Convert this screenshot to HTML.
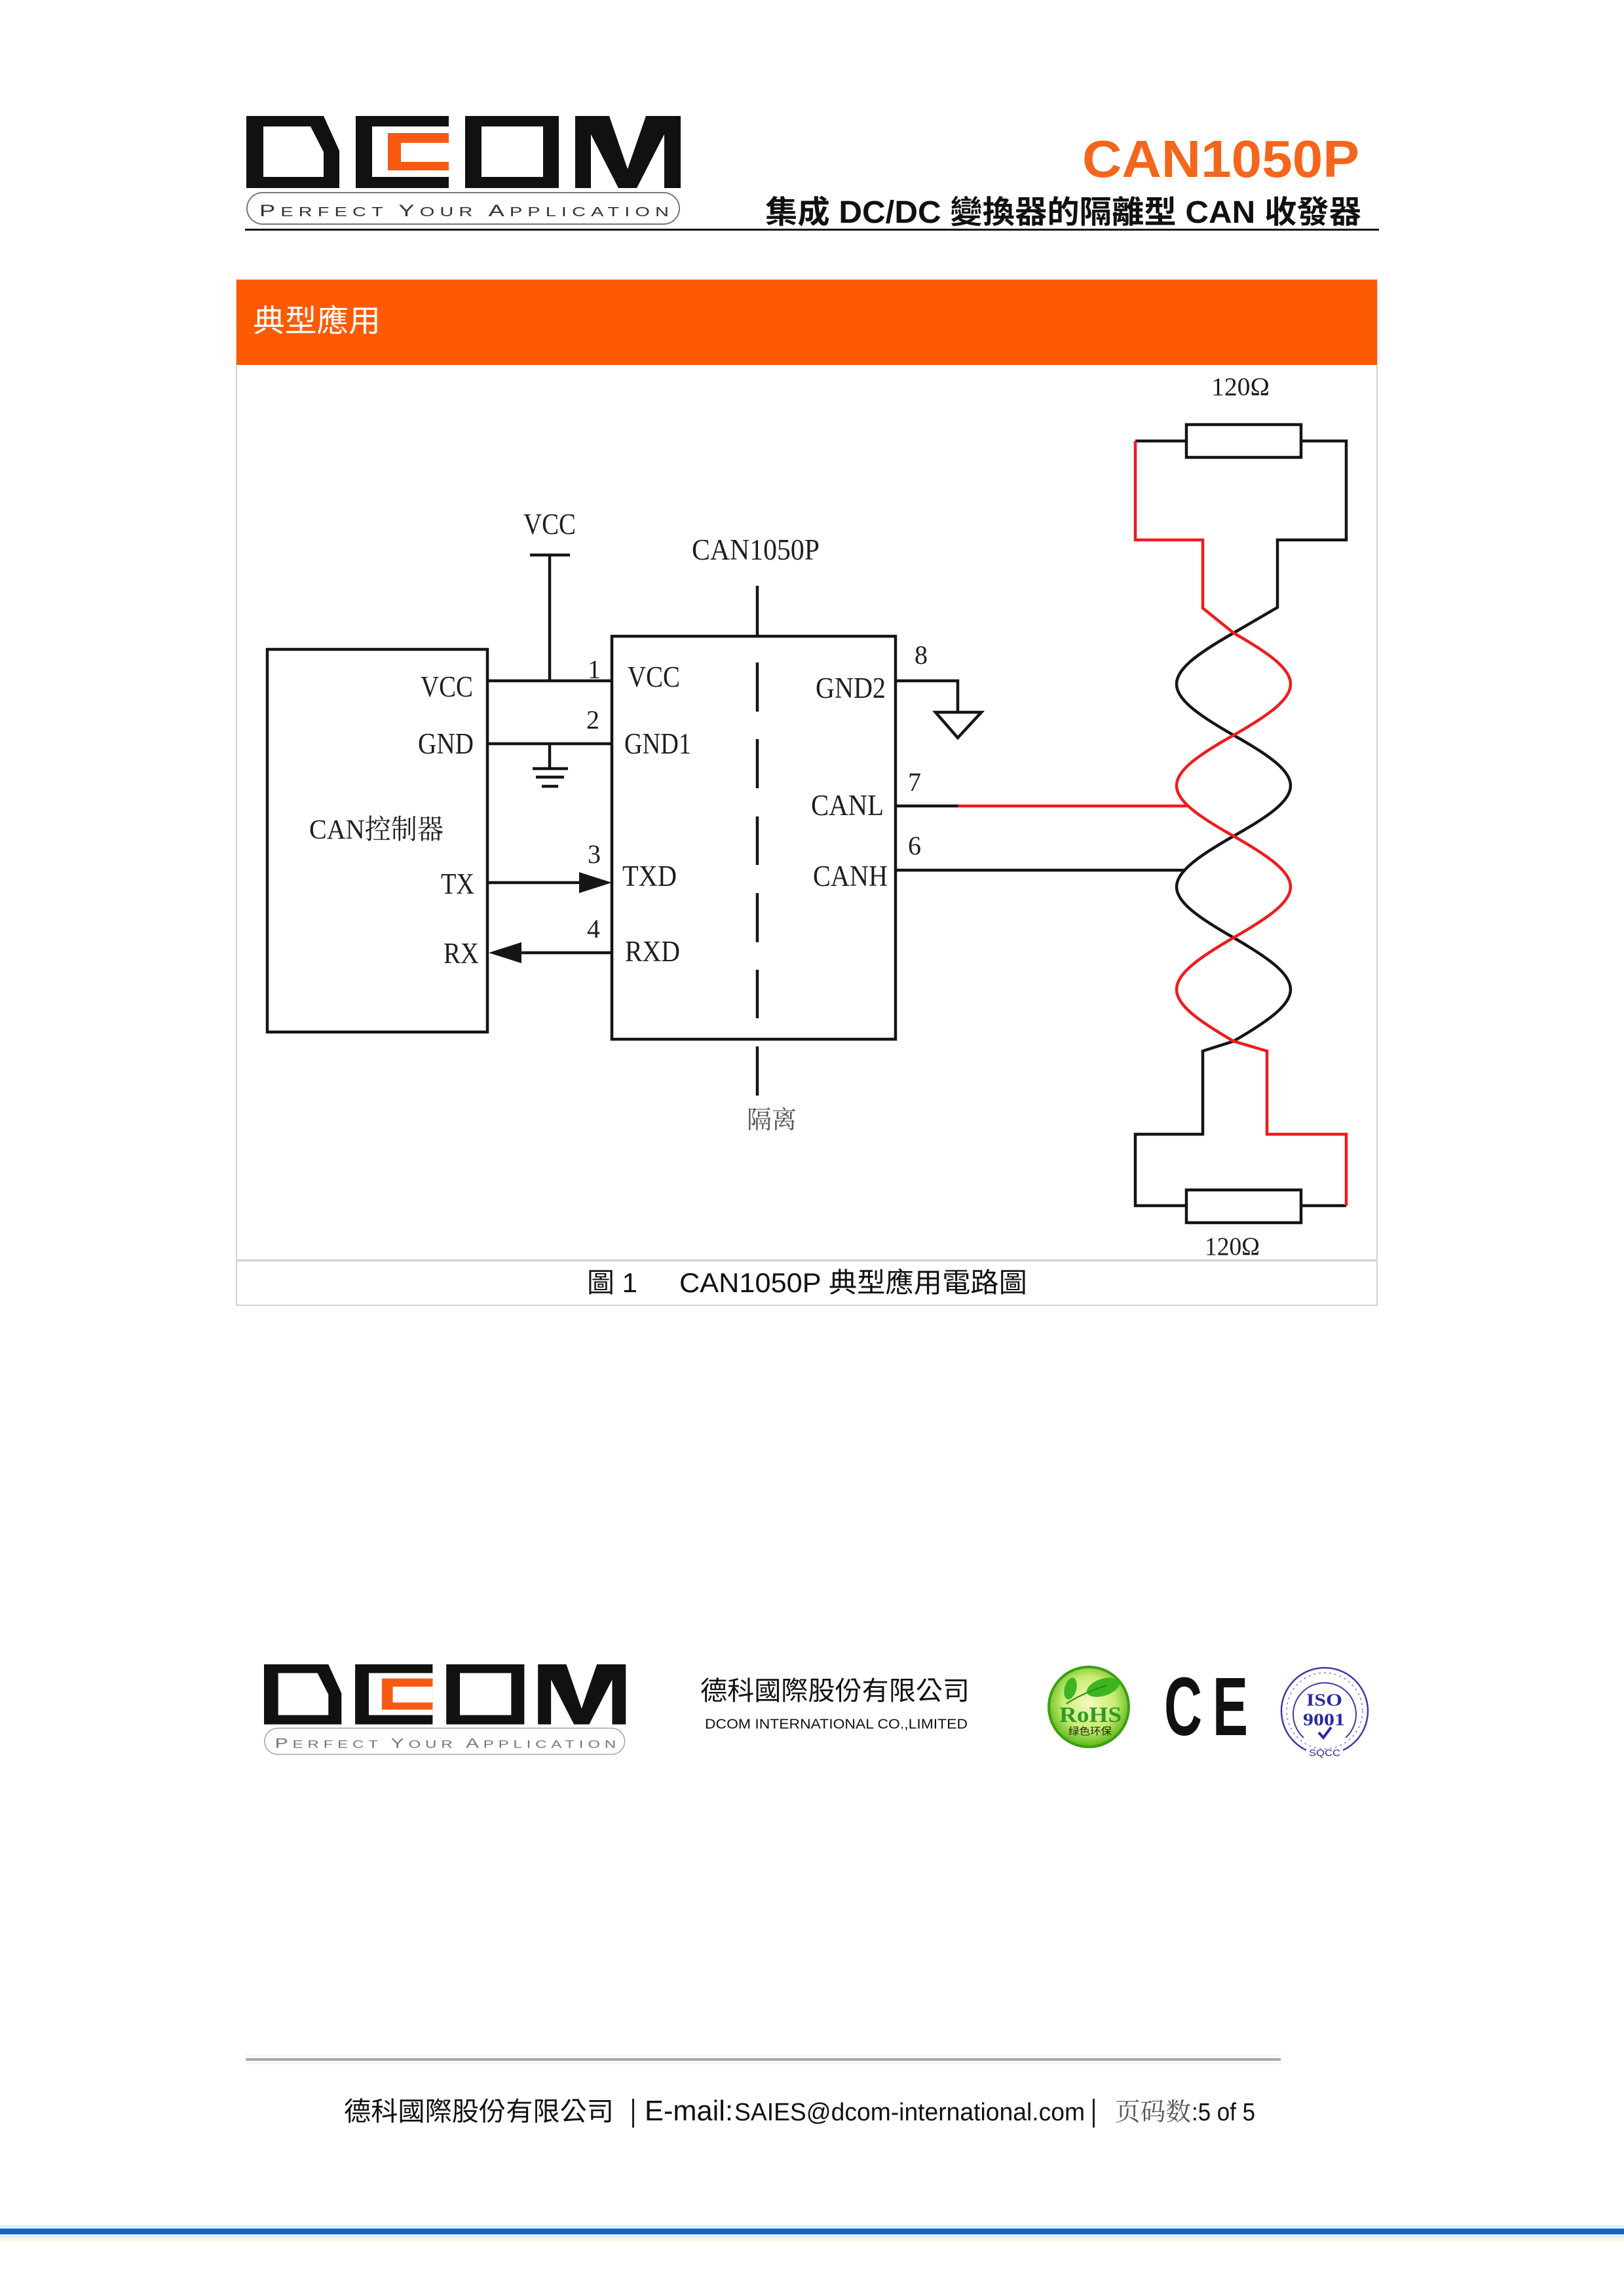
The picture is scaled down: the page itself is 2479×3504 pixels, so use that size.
<!DOCTYPE html>
<html>
<head>
<meta charset="utf-8">
<style>
html,body{margin:0;padding:0;background:#fff;}
svg{display:block;}
.s{font-family:'Liberation Serif','Noto Serif CJK SC',serif;fill:#1e1e1e;}
.a{font-family:'Liberation Sans','Noto Sans CJK TC',sans-serif;}
</style>
</head>
<body>
<svg width="2479" height="3504" viewBox="0 0 2479 3504" xmlns="http://www.w3.org/2000/svg">
<rect width="2479" height="3504" fill="#fff"/>

<!-- ===== HEADER LOGO ===== -->
<g>
 <polygon points="376,177 494,177 518,230 518,287 376,287" fill="#111"/>
 <polygon points="402,193 474,193 494,232 494,270 402,270" fill="#fff"/>
 <rect x="543" y="177" width="142" height="110" fill="#111"/>
 <rect x="568" y="193" width="117" height="77" fill="#fff"/>
 <path d="M592 203 H685 V218 H612 V247 H685 V260 H592 Z" fill="#f85a12"/>
 <rect x="710" y="177" width="143" height="110" fill="#111"/>
 <rect x="735" y="193" width="94" height="77" fill="#fff"/>
 <polygon points="878,177 930,177 958,258 986,177 1039,177 1039,287 1014,287 1014,205 972,287 944,287 902,205 902,287 878,287" fill="#111"/>
 <rect x="377" y="294" width="660" height="48" rx="24" fill="none" stroke="#777" stroke-width="2"/>
 <g transform="translate(396 330) scale(1.45 1)">
  <text class="a" x="0" y="0" textLength="431" lengthAdjust="spacing" fill="#333" font-size="20"><tspan font-size="25">P</tspan>ERFECT <tspan font-size="25">Y</tspan>OUR <tspan font-size="25">A</tspan>PPLICATION</text>
 </g>
</g>

<!-- header title -->
<text class="a" x="1652" y="270" font-size="80" font-weight="bold" fill="#f4661b" textLength="423" lengthAdjust="spacingAndGlyphs">CAN1050P</text>
<text class="a" x="1168" y="340" font-size="48" font-weight="bold" fill="#111" textLength="910" lengthAdjust="spacingAndGlyphs">集成 DC/DC 變換器的隔離型 CAN 收發器</text>
<rect x="374" y="349" width="1731" height="3" fill="#111"/>

<!-- ===== SECTION FRAME ===== -->
<rect x="361" y="427" width="1741" height="1565" fill="none" stroke="#d2d2d2" stroke-width="2"/>
<rect x="361" y="427" width="1741" height="130" fill="#fd5a02"/>
<text class="a" x="386" y="506" font-size="47" fill="#fff" textLength="195" lengthAdjust="spacingAndGlyphs">典型應用</text>
<rect x="361" y="1922" width="1741" height="3" fill="#cfcfcf"/>

<!-- caption -->
<text class="a" x="896" y="1972" font-size="42" fill="#111">圖 1</text>
<text class="a" x="1037" y="1972" font-size="42" fill="#111" textLength="531" lengthAdjust="spacingAndGlyphs">CAN1050P 典型應用電路圖</text>

<!-- ===== DIAGRAM ===== -->
<g fill="none" stroke="#151515" stroke-width="4.5">
 <rect x="408" y="991" width="336" height="584"/>
 <rect x="934" y="971" width="433" height="615"/>
 <line x1="744" y1="1039" x2="934" y2="1039"/>
 <line x1="839" y1="847" x2="839" y2="1039"/>
 <line x1="809" y1="847" x2="870" y2="847"/>
 <line x1="744" y1="1135" x2="934" y2="1135"/>
 <line x1="839" y1="1135" x2="839" y2="1173"/>
 <line x1="813" y1="1173" x2="867" y2="1173"/>
 <line x1="818" y1="1186" x2="861" y2="1186"/>
 <line x1="827" y1="1200" x2="852" y2="1200"/>
 <line x1="744" y1="1347" x2="890" y2="1347"/>
 <line x1="792" y1="1454" x2="934" y2="1454"/>
 <line x1="1156" y1="894" x2="1156" y2="971"/>
 <line x1="1156" y1="1011" x2="1156" y2="1086"/>
 <line x1="1156" y1="1128" x2="1156" y2="1203"/>
 <line x1="1156" y1="1246" x2="1156" y2="1320"/>
 <line x1="1156" y1="1363" x2="1156" y2="1438"/>
 <line x1="1156" y1="1480" x2="1156" y2="1554"/>
 <line x1="1156" y1="1597" x2="1156" y2="1672"/>
 <polyline points="1367,1039 1462,1039 1462,1087"/>
 <polygon points="1428,1087 1498,1087 1462,1126"/>
 <line x1="1367" y1="1230" x2="1464" y2="1230"/>
 <line x1="1367" y1="1328" x2="1810" y2="1328"/>
 <rect x="1811" y="648" width="175" height="50" fill="#fff"/>
 <rect x="1811" y="1816" width="175" height="50" fill="#fff"/>
 <path d="M1986 673 L2055 673 L2055 824 L1950 824 L1950 927 L1883 966 C1767 1032 1767 1056 1883 1122 C1999 1187 1999 1211 1883 1276 C1767 1342 1767 1365 1883 1431 C1999 1498 1999 1522 1883 1589 L1836 1604 L1836 1731 L1733 1731 L1733 1840 L1811 1840"/>
 <line x1="1811" y1="673" x2="1733" y2="673"/>
 <line x1="2055" y1="1840" x2="1986" y2="1840"/>
</g>
<g fill="none" stroke="#ee1c1c" stroke-width="4.5">
 <path d="M1733 673 L1733 824 L1836 824 L1836 928 L1883 966 C1999 1032 1999 1056 1883 1122 C1767 1187 1767 1211 1883 1276 C1999 1342 1999 1365 1883 1431 C1767 1498 1767 1522 1883 1589 L1934 1604 L1934 1731 L2055 1731 L2055 1840"/>
 <line x1="1462" y1="1230" x2="1812" y2="1230"/>
</g>
<polygon points="884,1331 934,1347 884,1363" fill="#151515"/>
<polygon points="746,1454 796,1438 796,1470" fill="#151515"/>

<!-- labels -->
<g class="s" font-size="45">
 <text x="799" y="815" textLength="80" lengthAdjust="spacingAndGlyphs">VCC</text>
 <text x="1056" y="854" textLength="195" lengthAdjust="spacingAndGlyphs">CAN1050P</text>
 <text x="642" y="1063" textLength="80" lengthAdjust="spacingAndGlyphs">VCC</text>
 <text x="638" y="1150" textLength="85" lengthAdjust="spacingAndGlyphs">GND</text>
 <text x="472" y="1280" font-size="42" textLength="205" lengthAdjust="spacingAndGlyphs">CAN控制器</text>
 <text x="673" y="1364" textLength="51" lengthAdjust="spacingAndGlyphs">TX</text>
 <text x="677" y="1470" textLength="54" lengthAdjust="spacingAndGlyphs">RX</text>
 <text x="958" y="1048" textLength="80" lengthAdjust="spacingAndGlyphs">VCC</text>
 <text x="953" y="1150" textLength="102" lengthAdjust="spacingAndGlyphs">GND1</text>
 <text x="950" y="1352" textLength="83" lengthAdjust="spacingAndGlyphs">TXD</text>
 <text x="954" y="1467" textLength="84" lengthAdjust="spacingAndGlyphs">RXD</text>
 <text x="1245" y="1065" textLength="107" lengthAdjust="spacingAndGlyphs">GND2</text>
 <text x="1238" y="1244" textLength="111" lengthAdjust="spacingAndGlyphs">CANL</text>
 <text x="1241" y="1352" textLength="114" lengthAdjust="spacingAndGlyphs">CANH</text>
</g>
<g class="s" font-size="40">
 <text x="897" y="1035">1</text>
 <text x="895" y="1112">2</text>
 <text x="897" y="1317">3</text>
 <text x="896" y="1431">4</text>
 <text x="1396" y="1013">8</text>
 <text x="1386" y="1207">7</text>
 <text x="1386" y="1304">6</text>
 <text x="1849" y="603" font-size="39" textLength="89" lengthAdjust="spacingAndGlyphs">120Ω</text>
 <text x="1839" y="1915" font-size="39" textLength="84" lengthAdjust="spacingAndGlyphs">120Ω</text>
 <text x="1140" y="1722" font-size="38" textLength="76" lengthAdjust="spacingAndGlyphs" style="fill:#555">隔离</text>
</g>

<!-- ===== FOOTER LOGO STRIP ===== -->
<g transform="translate(403 2540) scale(0.833) translate(-376 -177)">
 <polygon points="376,177 494,177 518,230 518,287 376,287" fill="#111"/>
 <polygon points="402,193 474,193 494,232 494,270 402,270" fill="#fff"/>
 <rect x="543" y="177" width="142" height="110" fill="#111"/>
 <rect x="568" y="193" width="117" height="77" fill="#fff"/>
 <path d="M592 203 H685 V218 H612 V247 H685 V260 H592 Z" fill="#f85a12"/>
 <rect x="710" y="177" width="143" height="110" fill="#111"/>
 <rect x="735" y="193" width="94" height="77" fill="#fff"/>
 <polygon points="878,177 930,177 958,258 986,177 1039,177 1039,287 1014,287 1014,205 972,287 944,287 902,205 902,287 878,287" fill="#111"/>
 <rect x="377" y="294" width="660" height="48" rx="24" fill="none" stroke="#aaa" stroke-width="2"/>
 <g transform="translate(396 330) scale(1.45 1)">
  <text class="a" x="0" y="0" textLength="431" lengthAdjust="spacing" fill="#777" font-size="20"><tspan font-size="25">P</tspan>ERFECT <tspan font-size="25">Y</tspan>OUR <tspan font-size="25">A</tspan>PPLICATION</text>
 </g>
</g>

<text class="a" x="1069" y="2594" font-size="40" fill="#111" textLength="411" lengthAdjust="spacingAndGlyphs">德科國際股份有限公司</text>
<text class="a" x="1076" y="2638" font-size="21" fill="#111" textLength="401" lengthAdjust="spacingAndGlyphs">DCOM INTERNATIONAL CO.,LIMITED</text>

<!-- RoHS -->
<defs>
 <radialGradient id="rg" cx="50%" cy="45%" r="55%">
  <stop offset="0" stop-color="#f4fbc0"/>
  <stop offset="0.6" stop-color="#c8ec70"/>
  <stop offset="1" stop-color="#58b818"/>
 </radialGradient>
</defs>
<circle cx="1662" cy="2605" r="61" fill="url(#rg)" stroke="#3e9e14" stroke-width="4"/>
<ellipse cx="1684" cy="2575" rx="26" ry="13" transform="rotate(-18 1684 2575)" fill="#3cb521"/>
<ellipse cx="1634" cy="2577" rx="9" ry="17" transform="rotate(15 1634 2577)" fill="#3cb521"/>
<path d="M1628 2600 Q1650 2585 1690 2572" stroke="#2e8a18" stroke-width="2" fill="none"/>
<text x="1617" y="2628" font-family="'Liberation Serif',serif" font-weight="bold" font-size="34" fill="#2e9a2a" textLength="95" lengthAdjust="spacingAndGlyphs">RoHS</text>
<text x="1631" y="2647" font-family="'Liberation Sans','Noto Sans CJK SC',sans-serif" font-size="15" fill="#222" textLength="66" lengthAdjust="spacingAndGlyphs">绿色环保</text>

<!-- CE -->
<text x="1777" y="2648" font-family="'Liberation Sans',sans-serif" font-weight="bold" font-size="126" fill="#111" textLength="58" lengthAdjust="spacingAndGlyphs">C</text>
<text x="1851" y="2648" font-family="'Liberation Sans',sans-serif" font-weight="bold" font-size="126" fill="#111" textLength="54" lengthAdjust="spacingAndGlyphs">E</text>

<!-- ISO -->
<path d="M1994 2671 A66 66 0 1 1 2050 2671" fill="none" stroke="#3a3aa8" stroke-width="2.5"/>
<circle cx="2022" cy="2611" r="58" fill="none" stroke="#9a9ad0" stroke-width="2" stroke-dasharray="3 5"/>
<path d="M1990 2652 A48 48 0 1 1 2054 2652" fill="none" stroke="#3a3aa8" stroke-width="2"/>
<text x="1994" y="2603" font-family="'Liberation Serif',serif" font-weight="bold" font-size="26" fill="#2a2aa0" textLength="55" lengthAdjust="spacingAndGlyphs">ISO</text>
<text x="1989" y="2633" font-family="'Liberation Serif',serif" font-weight="bold" font-size="26" fill="#2a2aa0" textLength="64" lengthAdjust="spacingAndGlyphs">9001</text>
<path d="M2013 2644 L2020 2652 L2032 2636" fill="none" stroke="#2a2aa0" stroke-width="4"/>
<text x="1998" y="2680" font-family="'Liberation Sans',sans-serif" font-size="15" fill="#2a2aa0" textLength="48" lengthAdjust="spacingAndGlyphs">SQCC</text>

<!-- ===== FOOTER ===== -->
<rect x="375" y="3137" width="1580" height="1" fill="#e4e4e4"/>
<rect x="375" y="3141" width="1580" height="4" fill="#a9a9a9"/>
<rect x="375" y="3149" width="1580" height="1" fill="#e4e4e4"/>

<text class="a" x="525" y="3236" font-size="40" fill="#111" textLength="412" lengthAdjust="spacingAndGlyphs">德科國際股份有限公司</text>
<rect x="965" y="3203" width="3" height="44" fill="#222"/>
<text class="a" x="984" y="3236" font-size="44" fill="#111" textLength="135" lengthAdjust="spacingAndGlyphs">E-mail:</text>
<text class="a" x="1121" y="3236" font-size="38" fill="#111" textLength="535" lengthAdjust="spacingAndGlyphs">SAIES@dcom-international.com</text>
<rect x="1668" y="3203" width="3" height="44" fill="#222"/>
<text x="1702" y="3236" font-family="'Liberation Serif','Noto Serif CJK SC',serif" font-size="38" fill="#555" textLength="116" lengthAdjust="spacingAndGlyphs">页码数</text>
<text class="a" x="1819" y="3236" font-size="38" fill="#111" textLength="97" lengthAdjust="spacingAndGlyphs">:5 of 5</text>

<rect x="0" y="3396" width="2479" height="4" fill="#d8eefa"/>
<rect x="0" y="3401" width="2479" height="9" fill="#1566c2"/>
<rect x="0" y="3411" width="2479" height="4" fill="#d4ecfa"/>
<rect x="0" y="3416" width="2479" height="4" fill="#fcf2dc"/>
</svg>
</body>
</html>
